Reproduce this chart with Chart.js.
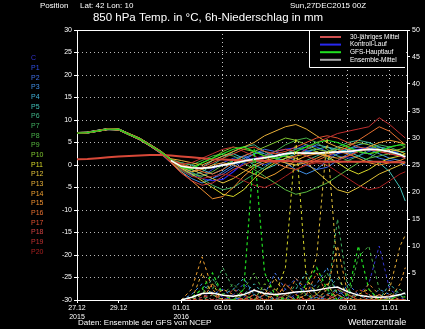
<!DOCTYPE html>
<html><head><meta charset="utf-8">
<script src="https://cdn.jsdelivr.net/npm/chart.js@4.4.0/dist/chart.umd.min.js"></script>
<style>html,body{margin:0;padding:0;background:#000;overflow:hidden}canvas{display:block}</style>
</head><body><canvas id="c" width="425" height="329"></canvas>
<script>
// ---------- data ----------
const HOURS = [0,12,24,36,48,60,72,84,96,108,120,132,144,156,168,180,192,204,216,228,240,252,264,276,288,300,312,324,336,348,360,372,378];
const X_TICKS = [0,48,120,168,216,264,312,360];
const X_TICK_LABELS = [["27.12","2015"],"29.12",["01.01","2016"],"03.01","05.01","07.01","09.01","11.01"];
const X_GRID_HOURS = [168,312,360];
const MEMBER_NAMES = ["C","P1","P2","P3","P4","P5","P6","P7","P8","P9","P10","P11","P12","P13","P14","P15","P16","P17","P18","P19","P20"];
const MEMBER_COLORS = ["#3434d0","#3050e8","#4070e8","#4090e8","#40b0d8","#40c0b8","#40b488","#40b060","#48b048","#58b840","#80c830","#d8d828","#e0c038","#e8b038","#f0a030","#f09030","#e87030","#e05030","#d04040","#c03030","#a82020"];

// 850 hPa temperature (°C), one row per member, at HOURS
const T_C   = [7.1,7.2,7.6,8.0,7.9,6.9,5.9,4.5,3.0, 1.0,-1.0,-2.2,-3.0,-3.5,-3.2,-1.5,0.5,1.5,2.0,3.0,3.5,3.8,3.2,2.5,2.0,2.5,3.0,3.5,4.0,3.5,3.0,2.0,1.5];
const T_P1  = [7.0,7.2,7.5,8.1,7.8,6.8,5.7,4.3,2.8, 0.8,-0.8,-1.8,-2.5,-1.0,0.5,1.5,2.0,1.0,0.0,1.0,2.5,3.5,4.5,4.0,3.0,2.0,1.5,2.0,3.0,4.0,3.5,2.5,2.0];
const T_P2  = [7.1,7.3,7.7,8.0,7.9,6.9,5.9,4.5,3.1, 1.2,0.0,-1.0,-2.0,-3.0,-2.0,-0.5,1.0,2.5,3.5,3.0,2.0,1.0,0.0,-1.0,-0.5,1.0,2.5,3.0,2.5,1.5,1.0,0.5,0.0];
const T_P3  = [7.0,7.1,7.6,7.9,7.8,6.7,5.6,4.2,2.6, 0.5,-1.5,-3.0,-4.0,-3.0,-1.5,0.0,1.5,2.5,3.0,2.0,0.5,-1.0,-2.0,-1.0,1.0,2.5,3.5,4.0,3.5,2.5,1.5,1.0,0.5];
const T_P4  = [7.1,7.2,7.6,8.0,8.0,6.9,5.8,4.4,3.0, 1.0,0.5,0.0,-1.0,-2.0,-1.0,1.0,2.0,3.0,2.5,1.5,1.0,2.0,3.5,4.5,4.0,3.0,3.5,4.5,5.0,4.0,3.0,2.5,2.0];
const T_P5  = [7.2,7.2,7.6,8.0,7.9,6.8,5.8,4.4,2.9, 1.0,-0.5,-1.5,-0.5,1.0,2.0,2.5,1.5,0.0,-1.0,0.0,1.5,2.5,3.0,3.5,4.0,3.5,3.0,2.0,1.0,0.5,-1.5,-5.0,-8.0];
const T_P6  = [7.0,7.2,7.6,7.9,7.8,6.8,5.7,4.3,2.7, 0.6,-1.2,-2.5,-1.5,0.0,1.5,3.0,4.0,4.5,3.0,1.5,0.5,0.0,1.0,2.0,3.0,4.0,5.0,5.5,5.0,4.0,3.5,3.0,3.0];
const T_P7  = [7.1,7.3,7.7,8.1,7.9,6.8,5.8,4.4,2.9, 0.9,-0.3,-1.5,-3.0,-4.5,-5.5,-5.0,-3.5,-2.0,-0.5,1.0,2.5,3.5,4.0,3.0,1.5,0.5,1.0,2.0,3.5,4.5,4.0,3.0,2.5];
const T_P8  = [7.1,7.2,7.6,8.0,8.0,7.0,6.0,4.6,3.1, 1.3,0.5,0.0,1.0,2.0,2.5,2.0,1.0,0.5,1.5,3.0,4.5,5.5,6.0,5.0,3.5,2.0,1.0,0.5,1.5,3.0,4.0,4.5,4.0];
const T_P9  = [7.0,7.2,7.6,8.0,7.8,6.8,5.7,4.3,2.8, 0.7,-1.0,-2.0,-2.5,-1.5,0.0,1.0,0.5,-1.0,-2.5,-4.0,-5.5,-6.5,-6.0,-5.0,-4.0,-2.5,-1.0,0.5,1.5,2.0,2.5,2.5,2.0];
const T_P10 = [7.1,7.2,7.6,8.0,7.9,6.9,5.9,4.5,3.0, 1.1,0.0,-0.5,0.5,1.5,3.0,4.0,3.5,3.0,4.0,5.0,6.0,5.5,4.5,3.5,3.0,3.5,4.5,5.0,4.5,3.5,3.0,3.5,4.0];
const T_P11 = [7.1,7.2,7.5,7.9,7.8,6.7,5.7,4.3,2.8, 0.8,-0.7,-2.0,-3.5,-5.0,-6.5,-7.0,-5.5,-3.0,-1.0,0.5,1.5,2.0,2.5,3.0,2.0,0.5,-1.0,-2.0,-1.0,0.5,1.5,2.0,2.5];
const T_P12 = [7.1,7.2,7.6,8.0,7.9,6.8,5.8,4.4,2.9, 1.0,-0.2,-1.0,-2.0,-3.0,-4.0,-3.0,-1.5,0.0,1.0,1.5,2.0,1.5,0.5,-1.5,-3.5,-5.5,-6.2,-5.0,-3.5,-2.0,-1.0,0.0,0.5];
const T_P13 = [7.2,7.3,7.7,8.1,8.0,7.0,6.0,4.6,3.2, 1.4,1.0,0.5,0.0,1.0,2.0,3.0,4.0,5.0,6.5,7.5,8.5,9.0,8.0,6.5,5.0,4.0,3.5,3.0,2.5,3.0,3.5,3.0,2.5];
const T_P14 = [7.1,7.2,7.6,8.0,7.9,6.8,5.8,4.4,2.9, 0.9,-0.5,-1.5,-1.0,0.0,0.5,0.0,-1.0,-2.0,-3.0,-2.0,-0.5,1.0,2.0,2.5,2.0,1.5,2.0,3.0,4.0,5.0,5.5,5.0,4.5];
const T_P15 = [7.0,7.1,7.5,7.9,7.8,6.7,5.6,4.2,2.7, 0.6,-1.5,-3.5,-5.5,-7.5,-7.0,-5.0,-2.5,-0.5,0.5,1.0,0.5,0.0,0.5,1.5,2.5,3.0,2.5,1.5,0.5,0.0,0.5,1.0,1.5];
const T_P16 = [7.1,7.2,7.6,8.0,7.9,6.9,5.9,4.5,3.0, 1.2,0.3,-0.5,-1.5,-2.0,-1.0,0.5,2.0,3.0,2.0,0.5,-0.5,-1.0,0.0,1.0,2.0,3.0,4.0,5.5,7.0,8.5,7.5,5.5,4.5];
const T_P17 = [7.1,7.2,7.6,8.0,7.9,6.8,5.8,4.4,3.0, 1.0,0.0,-0.8,-0.5,0.5,1.5,2.5,3.5,4.0,3.0,2.5,3.0,4.0,5.0,6.0,6.5,6.0,5.0,4.0,3.5,3.0,2.5,2.0,2.0];
const T_P18 = [7.0,7.2,7.6,8.0,7.8,6.7,5.7,4.3,2.7, 0.5,-1.8,-3.5,-4.5,-4.0,-2.5,-1.0,0.0,1.0,2.0,3.0,3.5,3.0,2.0,1.0,0.5,1.0,2.0,3.0,3.5,3.0,2.5,2.0,1.5];
const T_P19 = [7.1,7.2,7.6,8.0,7.9,6.9,5.9,4.5,3.1, 1.1,0.2,0.5,1.5,2.5,3.5,4.0,3.0,2.0,1.0,0.5,1.0,2.0,3.5,5.0,6.0,7.0,7.5,8.0,8.5,10.5,9.0,7.0,6.0];
const T_P20 = [7.1,7.2,7.6,8.0,7.9,6.8,5.8,4.4,2.9, 0.8,-1.0,-2.5,-3.0,-2.5,-2.0,-2.5,-3.5,-4.5,-5.0,-4.0,-2.5,-1.0,0.0,0.5,0.0,-1.5,-3.0,-4.5,-5.5,-5.0,-3.5,-2.0,-1.5];
const T_OP   = [7.1,7.2,7.6,8.0,7.9,6.8,5.8,4.4,3.0, 1.2,-0.5,-1.0,0.5,1.5,2.5,3.5,4.0,3.0,2.0,1.5,2.0,3.0,4.0,5.0,5.5,5.0,4.0,3.0,2.5,3.0,4.0,4.5,4.5];
const T_MEAN = [7.1,7.2,7.6,8.0,7.9,6.8,5.8,4.4,2.9, 1.0,-0.3,-0.6,-0.7,-0.5,0.0,0.4,0.9,1.3,1.6,2.0,2.5,2.7,2.6,2.6,2.8,2.9,3.0,3.3,3.5,3.4,3.0,2.3,1.8];
const T_CLIM = [1.3,1.35,1.5,1.7,1.9,2.0,2.1,2.2,2.2,2.1,1.9,1.7,1.5,1.3,1.2,1.1,1.0,1.0,0.9,0.9,0.9,0.8,0.8,0.8,0.8,0.7,0.7,0.7,0.7,0.7,0.6,0.6,0.6];

// 6h precipitation (mm) from 120 h on
const P_HOURS = [120,132,144,156,168,180,192,204,216,228,240,252,264,276,288,300,312,324,336,348,360,372,378];
const R_C   = [0,0,0.5,1.5,0.5,0,0.5,2,1,0,0,1,3,1,0,0,0.5,1,3,10,2,0.5,0];
const R_P1  = [0,0.5,1,0,0,1,3,1,0,0,2,4,1,0,0,1,2,0,0,1,0,0,0];
const R_P2  = [0,0,0,1,2,0.5,0,0,1,5,2,0,0,0.5,0,0,3,1,0,0,0.5,1,0];
const R_P3  = [0,1,3,1,0,0,0,1,2,0,0,0,1,3,6,1,0,0,0,2,1,0,0];
const R_P4  = [0,0,0,0,1,2,4,1,0,0,1,0,0,0,1,2,0,0,1,0,0,2,1];
const R_P5  = [0,0.5,0,0,0,0,1,3,1,0,0,2,5,1,0,0,0,1,0,0,3,1,0];
const R_P6  = [0,0,1,4,1,0,0,0,2,1,0,0,0,0,2,4,1,0,0,0,0,0,0];
const R_P7  = [0,0,0,2,6,2,0,1,0,0,0,3,1,0,0,15,2,0,0,1,0,0,0];
const R_P8  = [0,0,0,0,1,3,1,0,0,0,1,0,0,2,5,1,0,8,10,2,0,0,0];
const R_P9  = [0,0.5,2,1,0,0,2,5,1,0,0,0,0,1,3,0,0,0,0,0,1,2,1];
const R_P10 = [0,0,0,1,0,0,1,0,3,2,0,0,1,0,0,2,1,0,0,0,0,1,0];
const R_P11 = [0,0,1,3,0,0,0,0,0,1,6,30,4,1,0,0,0,1,2,0,0,0,0];
const R_P12 = [0,0,0,0,1,0,0,2,1,0,0,0,2,8,30,5,0,0,0,1,0,0,0];
const R_P13 = [0,0,5,1,0,0,0,0,1,4,1,0,0,1,3,0,0,0,1,0,2,10,12];
const R_P14 = [0,2,8,2,0,0,0,1,0,0,3,1,0,0,2,10,1,0,0,0,0,3,6];
const R_P15 = [0,0,0,0,2,1,0,0,0,1,0,4,2,0,0,1,0,0,3,1,0,0,0];
const R_P16 = [0,0,0,3,1,0,0,0,2,0,0,0,1,5,1,0,0,0,0,0,1,0,0];
const R_P17 = [0,0.5,1,0,0,2,1,0,0,0,3,1,0,0,0,1,0,2,1,0,0,0,0];
const R_P18 = [0,0,0,0,0,1,0,0,1,2,0,0,0,0,1,0,0,0,0,1,0,0,0];
const R_P19 = [0,0,0.5,1,0,0,0,1,0,0,1,0,0,0,0,2,1,0,0,0,1,0,0];
const R_P20 = [0,0,0,0,1,0,0,0,0,1,0,0,0,1,0,0,0,1,0,0,0,0,0];
const R_OP  = [0,0.5,2,5,1,0,2,28,5,1,0,0,3,6,2,0,1,10,2,0,0,1,0.5];
const R_MEAN= [0,0.5,1.2,1.3,0.9,0.7,1.0,1.8,1.2,1.0,1.2,1.5,1.6,1.8,2.2,2.4,1.5,0.9,0.6,0.5,0.6,1.0,1.3];

const T_MEMBERS = [T_C,T_P1,T_P2,T_P3,T_P4,T_P5,T_P6,T_P7,T_P8,T_P9,T_P10,T_P11,T_P12,T_P13,T_P14,T_P15,T_P16,T_P17,T_P18,T_P19,T_P20];
const R_MEMBERS = [R_C,R_P1,R_P2,R_P3,R_P4,R_P5,R_P6,R_P7,R_P8,R_P9,R_P10,R_P11,R_P12,R_P13,R_P14,R_P15,R_P16,R_P17,R_P18,R_P19,R_P20];

const LEGEND_LABELS = ["30-jähriges Mittel","Kontroll-Lauf","GFS-Hauptlauf","Ensemble-Mittel"];
const LEGEND_COLORS = ["#d05050","#2828f0","#20e020","#a8a8a8"];

// ---------- build ----------
const pts = (hs, vs) => vs.map((v, i) => ({x: hs[i], y: v}));
const FONT = "'Liberation Sans', Arial, sans-serif";
const layers = []; // bottom to top
layers.push({label: 'mean', data: pts(HOURS, T_MEAN), yAxisID: 'yT', borderColor: '#ffffff', borderWidth: 2});
T_MEMBERS.forEach((arr, i) => layers.push({label: MEMBER_NAMES[i], data: pts(HOURS, arr), yAxisID: 'yT', borderColor: i === 0 ? '#2828f0' : MEMBER_COLORS[i], borderWidth: i === 0 ? 1.2 : 1}));
layers.push({label: 'clim', data: pts(HOURS, T_CLIM), yAxisID: 'yT', borderColor: '#d84838', borderWidth: 2});
layers.push({label: 'op', data: pts(HOURS, T_OP), yAxisID: 'yT', borderColor: '#20e020', borderWidth: 1.2});
layers.push({label: 'mean2', data: pts(HOURS.slice(9), T_MEAN.slice(9)), yAxisID: 'yT', borderColor: '#ffffff', borderWidth: 1.5});
R_MEMBERS.forEach((arr, i) => layers.push({label: 'r' + MEMBER_NAMES[i], data: pts(P_HOURS, arr), yAxisID: 'yP', borderColor: MEMBER_COLORS[i], borderWidth: 1, borderDash: [3, 3]}));
layers.push({label: 'rop', data: pts(P_HOURS, R_OP), yAxisID: 'yP', borderColor: '#20e020', borderWidth: 1.2, borderDash: [3, 3]});
layers.push({label: 'rmean', data: pts(P_HOURS, R_MEAN), yAxisID: 'yP', borderColor: '#ffffff', borderWidth: 1.5});
const datasets = layers.reverse().map(d => Object.assign({pointRadius: 0, tension: 0, fill: false}, d));

const deco = {
  id: 'deco',
  beforeDraw(chart) {
    const c = chart.ctx;
    c.save(); c.fillStyle = '#000'; c.fillRect(0, 0, chart.width, chart.height); c.restore();
  },
  afterDraw(chart) {
    const c = chart.ctx, a = chart.chartArea;
    c.save();
    c.strokeStyle = '#fff'; c.lineWidth = 1;
    c.beginPath(); c.moveTo(a.left, a.top + 0.5); c.lineTo(a.right + 1, a.top + 0.5); c.stroke();
    // legend box
    const bx = 309, by = a.top, bw = a.right - 2 - bx, bh = 37;
    c.fillStyle = '#000'; c.fillRect(bx, by + 1, bw, bh);
    c.beginPath(); c.moveTo(bx + 0.5, by); c.lineTo(bx + 0.5, by + bh + 0.5); c.lineTo(bx + bw, by + bh + 0.5); c.stroke();
    LEGEND_LABELS.forEach((t, i) => {
      const y = by + 7 + i * 7.6;
      c.strokeStyle = LEGEND_COLORS[i]; c.lineWidth = 2;
      c.beginPath(); c.moveTo(320, y); c.lineTo(341, y); c.stroke();
      c.fillStyle = '#fff'; c.font = '6.5px ' + FONT; c.textBaseline = 'middle'; c.textAlign = 'left';
      c.fillText(t, 350, y);
    });
    // texts
    c.fillStyle = '#fff'; c.textBaseline = 'middle';
    c.font = '8px ' + FONT; c.textAlign = 'left';
    c.fillText('Position', 40, 6);
    c.fillText('Lat: 42 Lon: 10', 80, 6);
    c.fillText('Sun,27DEC2015 00Z', 290, 6);
    c.font = '11.5px ' + FONT; c.textAlign = 'center';
    c.fillText('850 hPa Temp. in °C, 6h-Niederschlag in mm', 208, 18);
    c.font = '8px ' + FONT; c.textAlign = 'left';
    c.fillText('Daten: Ensemble der GFS von NCEP', 78, 323);
    c.font = '9px ' + FONT;
    c.fillText('Wetterzentrale', 348, 323);
    // member labels
    c.font = '7px ' + FONT;
    MEMBER_NAMES.forEach((n, i) => { c.fillStyle = MEMBER_COLORS[i]; c.fillText(n, 31, 58.3 + i * 9.67); });
    c.restore();
  }
};

new Chart(document.getElementById('c'), {
  type: 'line',
  data: {datasets},
  options: {
    responsive: false, animation: false, devicePixelRatio: 1,
    layout: {padding: {top: 30, left: 0, right: 0, bottom: 0}},
    plugins: {legend: {display: false}, tooltip: {enabled: false}, title: {display: false}},
    scales: {
      x: {
        type: 'linear', min: 0, max: 380,
        afterBuildTicks: s => { s.ticks = X_TICKS.map(v => ({value: v})); },
        afterFit: s => { s.height = 29; },
        ticks: {color: '#fff', font: {size: 7, family: FONT}, maxRotation: 0, autoSkip: false, padding: 1,
          callback: (v, i) => X_TICK_LABELS[i]},
        grid: {color: ctx => (ctx.tick && X_GRID_HOURS.includes(ctx.tick.value)) ? '#c8c8c8' : 'rgba(0,0,0,0)',
          tickColor: '#fff', tickLength: 3, tickBorderDash: [], lineWidth: 1},
        border: {color: '#fff', width: 1, dash: [1, 3]}
      },
      yT: {
        type: 'linear', position: 'left', min: -30, max: 30,
        afterFit: s => { s.width = 77; },
        ticks: {stepSize: 5, color: '#fff', font: {size: 7, family: FONT}, padding: 2},
        grid: {color: '#b8b8b8', tickColor: '#fff', tickLength: 3, tickBorderDash: [], lineWidth: 1},
        border: {color: '#fff', width: 1, dash: [1, 3]}
      },
      yP: {
        type: 'linear', position: 'right', min: 0, max: 50,
        afterFit: s => { s.width = 18; },
        ticks: {stepSize: 5, color: '#fff', font: {size: 7, family: FONT}, padding: 2,
          callback: v => v === 0 ? '' : v},
        grid: {drawOnChartArea: false, tickColor: '#fff', tickLength: 3},
        border: {color: '#fff', width: 1}
      }
    }
  },
  plugins: [deco]
});
</script></body></html>
